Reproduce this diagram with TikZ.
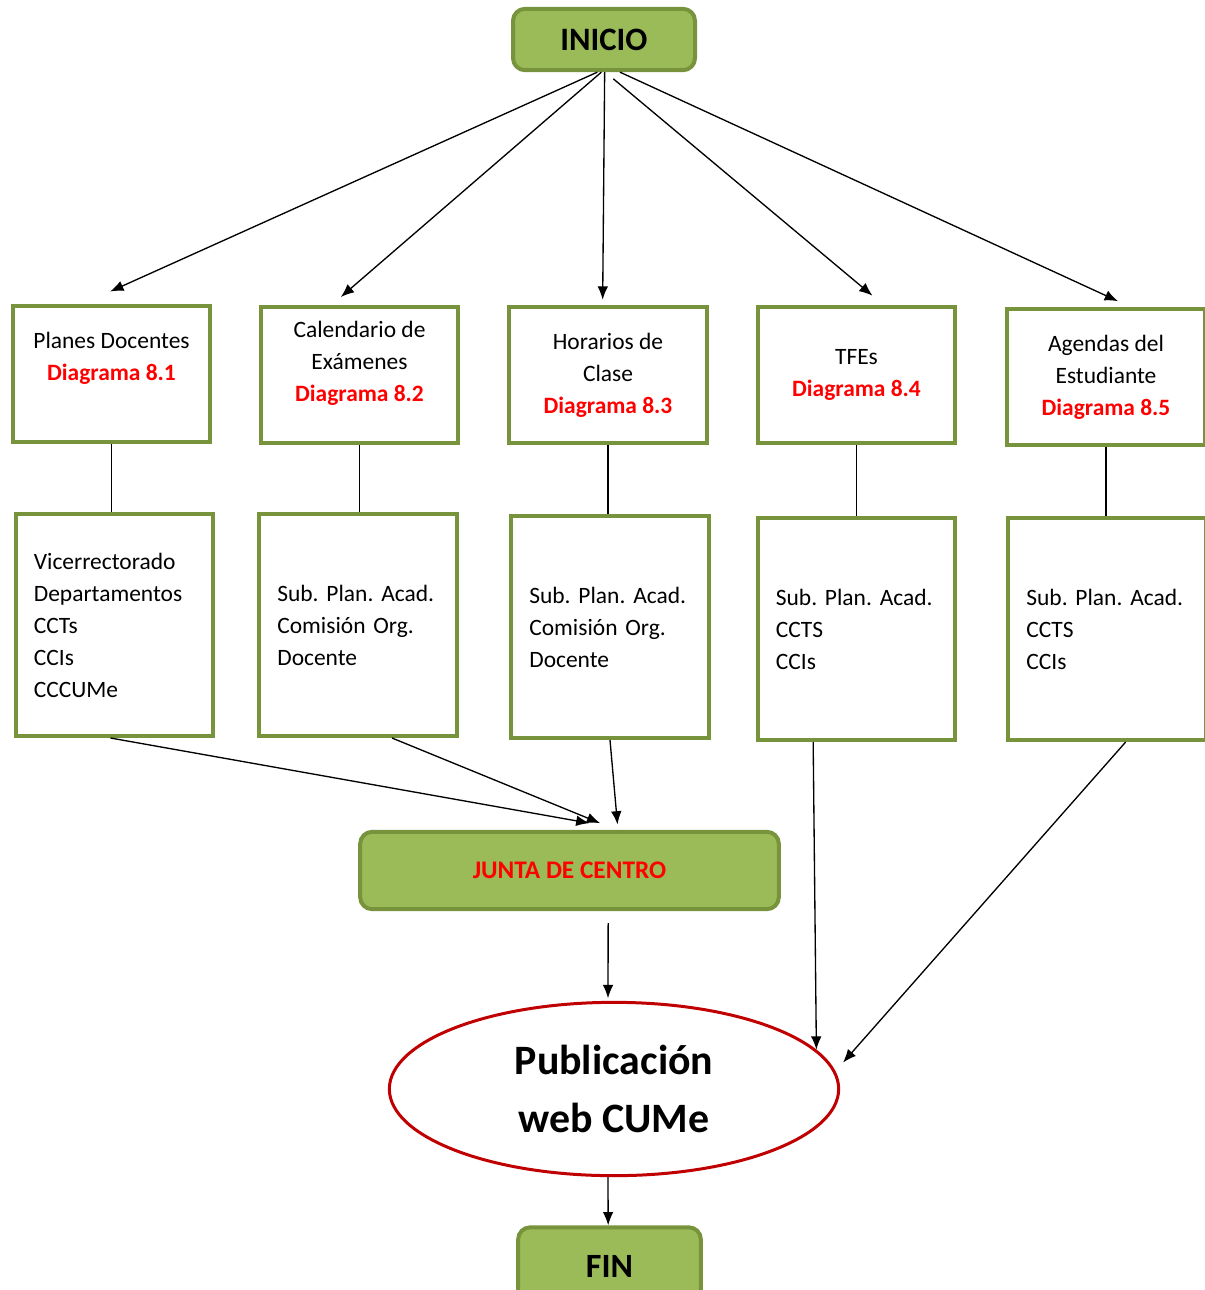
\documentclass[tikz,border=0pt]{standalone}
\usepackage{fontspec}
\setmainfont{Carlito}
\usetikzlibrary{arrows.meta,shapes.geometric}
\definecolor{olivefill}{HTML}{9BBB59}
\definecolor{oliveline}{HTML}{77933C}
\definecolor{darkred}{HTML}{C00000}
\definecolor{brightred}{HTML}{FF0000}
\begin{document}
\begin{tikzpicture}[x=0.75pt,y=-0.75pt,
    greenbox/.style={draw=oliveline, fill=olivefill, line width=3pt, rounded corners=9pt},
    whitebox/.style={draw=oliveline, fill=white, line width=3pt, minimum width=148pt},
    titlebox/.style={whitebox, minimum height=102pt},
    listbox/.style={whitebox, minimum height=166.5pt, text width=121pt, inner xsep=0pt, align=left, font=\fontsize{17.6}{24}\selectfont},
    boxtext/.style={align=center, font=\fontsize{17.6}{24}\selectfont},
    arr/.style={line width=1pt, -{Latex[length=10pt,width=8pt]}},
    link/.style={line width=1pt}]
  \useasboundingbox (0,0) rectangle (1205,1290);

  % start and end
  \node[greenbox, minimum width=136.5pt, minimum height=46pt, font=\bfseries\fontsize{24.5}{28}\selectfont] (inicio) at (604,39.5) {INICIO};
  \node[greenbox, minimum width=137pt, minimum height=58pt, font=\bfseries\fontsize{25.5}{28}\selectfont] (fin) at (609.5,1266) {FIN};

  % first row
  \node[titlebox] (p1) at (111.5,373.5) {};
  \node[titlebox] (p2) at (359.5,375) {};
  \node[titlebox] (p3) at (608,375) {};
  \node[titlebox] (p4) at (856.5,375) {};
  \node[titlebox] (p5) at (1106,376.5) {};
  \node[boxtext] (t1) at (111.5,358) {Planes Docentes\\\textcolor{brightred}{\bfseries Diagrama 8.1}};
  \node[boxtext] (t2) at (359.5,363.5) {Calendario de\\Exámenes\\\textcolor{brightred}{\bfseries Diagrama 8.2}};
  \node[boxtext] (t3) at (608,375) {Horarios de\\Clase\\\textcolor{brightred}{\bfseries Diagrama 8.3}};
  \node[boxtext] (t4) at (856.5,375) {TFEs\\\textcolor{brightred}{\bfseries Diagrama 8.4}};
  \node[boxtext] (t5) at (1106,377) {Agendas del\\Estudiante\\\textcolor{brightred}{\bfseries Diagrama 8.5}};

  % second row
  \node[listbox] (q1) at (114.5,625) {Vicerrectorado\\Departamentos\\CCTs\\CCIs\\CCCUMe};
  \node[listbox] (q2) at (358,625) {Sub.~Plan.~Acad.\\Comisión~Org.\\Docente};
  \node[listbox] (q3) at (610,627) {Sub.~Plan.~Acad.\\Comisión~Org.\\Docente};
  \node[listbox] (q4) at (856.5,629) {Sub.~Plan.~Acad.\\CCTS\\CCIs};
  \node[listbox] (q5) at (1107,629) {Sub.~Plan.~Acad.\\CCTS\\CCIs};

  \node[greenbox, minimum width=314pt, minimum height=58pt, font=\bfseries\fontsize{19}{22}\selectfont, text=brightred] (junta) at (569.5,870.5) {JUNTA DE CENTRO};
  \node[ellipse, draw=darkred, line width=2.25pt, minimum width=337pt, minimum height=130pt, inner sep=0pt, align=center, font=\bfseries\fontsize{31.4}{43}\selectfont] (pub) at (614,1089) {Publicación\\web CUMe};

  % fan out
  \draw[arr] ([xshift=-5pt]inicio.south) -- ([xshift=-1pt,yshift=9pt]p1.north);
  \draw[arr] ([xshift=-2pt]inicio.south) -- ([xshift=-14pt,yshift=6pt]p2.north);
  \draw[arr] ([xshift=0.5pt]inicio.south) -- ([xshift=-4pt,yshift=4pt]p3.north);
  \draw[arr] ([xshift=7pt,yshift=-5pt]inicio.south) -- ([xshift=12pt,yshift=7pt]p4.north);
  \draw[arr] ([xshift=12pt]inicio.south) -- ([xshift=9pt,yshift=4pt]p5.north);

  \draw[link] (p1.south) -- (p1.south |- q1.north);
  \draw[link] (p2.south) -- (p2.south |- q2.north);
  \draw[link] (p3.south) -- (p3.south |- q3.north);
  \draw[link] (p4.south) -- (p4.south |- q4.north);
  \draw[link] (p5.south) -- (p5.south |- q5.north);

  % fan in
  \draw[arr] ([xshift=-3pt]q1.south) -- ([xshift=15pt,yshift=5pt]junta.north);
  \draw[arr] ([xshift=25.5pt]q2.south) -- ([xshift=23pt,yshift=5pt]junta.north);
  \draw[arr] (q3.south) -- ([xshift=36pt,yshift=4pt]junta.north);
  \draw[arr] ([xshift=-32.5pt]q4.south) -- (pub.11);
  \draw[arr] ([xshift=14pt]q5.south) -- ([xshift=10pt]pub.7);

  \draw[arr] ([xshift=29pt,yshift=-9pt]junta.south) -- ([xshift=-4.5pt,yshift=2pt]pub.north);
  \draw[arr] ([xshift=-4.5pt]pub.south) -- ([xshift=-1pt]fin.north);
\end{tikzpicture}
\end{document}
